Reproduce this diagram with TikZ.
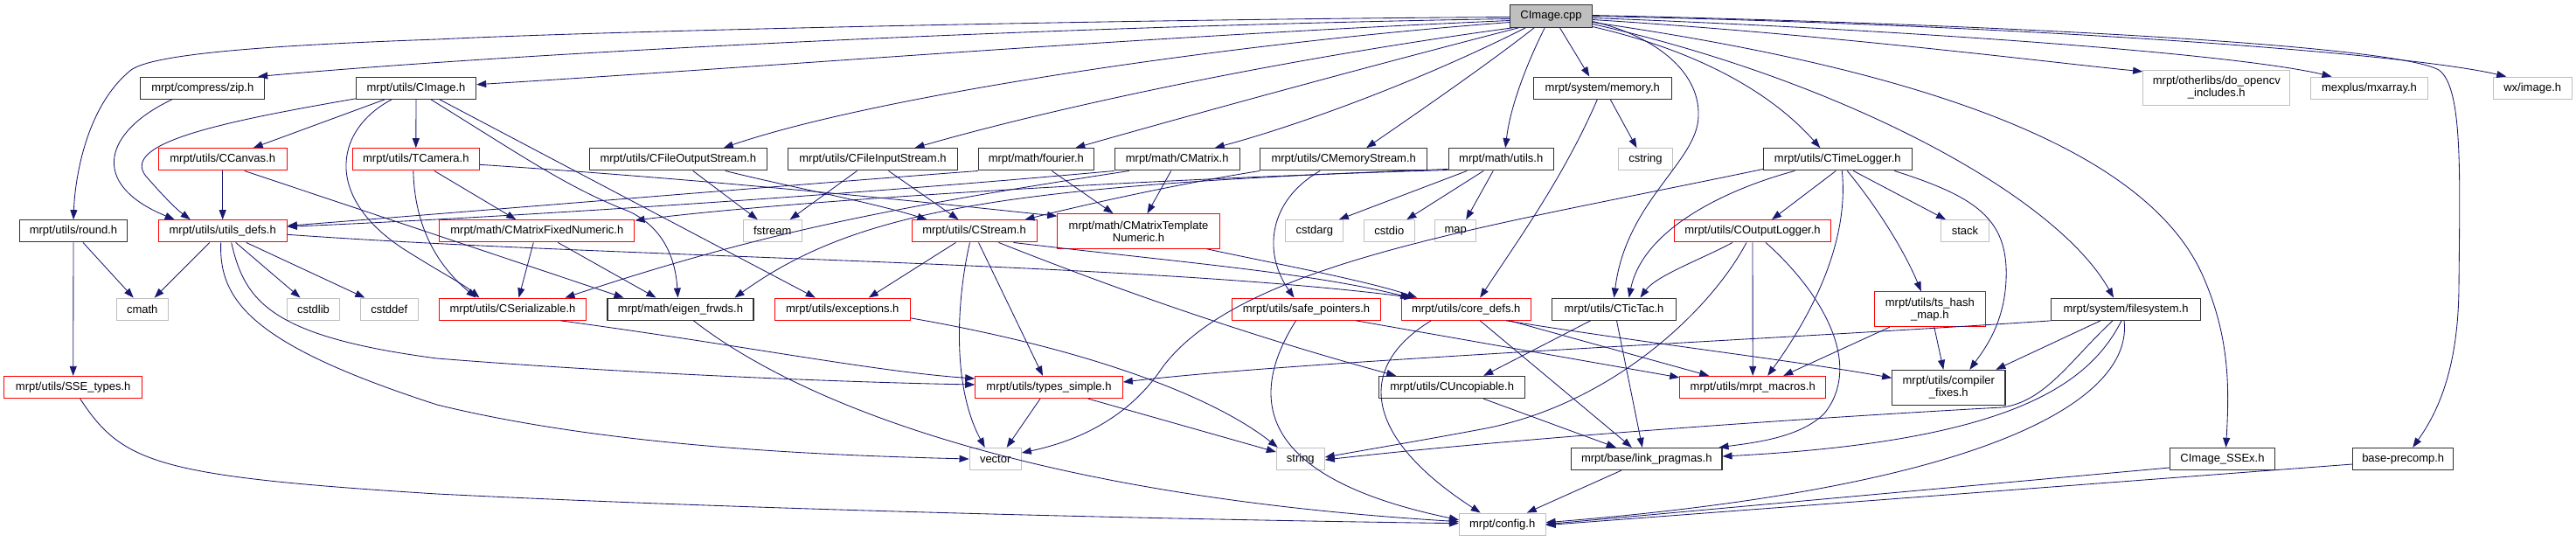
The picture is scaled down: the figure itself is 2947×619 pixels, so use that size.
\documentclass[tikz,border=0pt]{standalone}
\usepackage{fontspec}
\setmainfont{Liberation Sans}
\usetikzlibrary{arrows.meta}
\definecolor{edgec}{HTML}{191970}
\definecolor{redc}{HTML}{FF0000}
\definecolor{grayc}{HTML}{BFBFBF}
\definecolor{blkc}{HTML}{303030}
\begin{document}
\begin{tikzpicture}[x=1pt,y=-1pt,
  bx/.style={rectangle, inner sep=0pt, minimum height=25.3pt, font=\fontsize{13}{14}\selectfont, align=center, text=black},
  bxk/.style={bx, draw=blkc, line width=1.05pt},
  bxr/.style={bx, draw=redc, line width=1pt},
  bxg/.style={bx, draw=grayc, line width=1pt},
  bxroot/.style={bx, draw=blkc, line width=1.05pt, fill=grayc, minimum height=25.6pt},
  edg/.style={draw=edgec, line width=0.85pt, -{Triangle[length=11pt,width=8pt]}}]
\useasboundingbox (0,0) rectangle (2947,619);
\fill[white] (0,0) rectangle (2947,619);
% nodes
\node[bxroot, minimum width=93.6pt] (cpp) at (1774.5,18.5) {CImage.cpp};
\node[bxk, minimum width=141.7pt] (zip) at (231.8,100.7) {mrpt/compress/zip.h};
\node[bxk, minimum width=137.4pt] (cimgh) at (476,100.7) {mrpt/utils/CImage.h};
\node[bxk, minimum width=158pt] (memory) at (1833.3,100.7) {mrpt/system/memory.h};
\node[bxg, minimum width=168.3pt, minimum height=40pt] (opencv) at (2535.8,100.3) {mrpt/otherlibs/do\_opencv\\\_includes.h};
\node[bxg, minimum width=133.6pt] (mxarray) at (2710.5,100.7) {mexplus/mxarray.h};
\node[bxg, minimum width=89.7pt] (wximage) at (2897.2,100.7) {wx/image.h};
\node[bxr, minimum width=147.3pt] (ccanvas) at (254.7,182.3) {mrpt/utils/CCanvas.h};
\node[bxr, minimum width=145pt] (tcamera) at (475.8,182.3) {mrpt/utils/TCamera.h};
\node[bxk, minimum width=203pt] (cfos) at (775.8,182.3) {mrpt/utils/CFileOutputStream.h};
\node[bxk, minimum width=193.6pt] (cfis) at (998.5,182.3) {mrpt/utils/CFileInputStream.h};
\node[bxk, minimum width=132pt] (fourier) at (1185.3,182.3) {mrpt/math/fourier.h};
\node[bxk, minimum width=143.3pt] (cmatrix) at (1346.7,182.3) {mrpt/math/CMatrix.h};
\node[bxk, minimum width=191pt] (cmem) at (1537.2,182.3) {mrpt/utils/CMemoryStream.h};
\node[bxk, minimum width=120.3pt] (mutils) at (1717.2,182.3) {mrpt/math/utils.h};
\node[bxg, minimum width=61.6pt] (cstring) at (1882.5,182.3) {cstring};
\node[bxk, minimum width=170pt] (ctimelog) at (2102.3,182.3) {mrpt/utils/CTimeLogger.h};
\node[bxk, minimum width=122.6pt] (round) at (84,264.3) {mrpt/utils/round.h};
\node[bxr, minimum width=147.3pt] (udefs) at (254.7,264.3) {mrpt/utils/utils\_defs.h};
\node[bxr, minimum width=223.3pt] (cmfn) at (614.3,264.3) {mrpt/math/CMatrixFixedNumeric.h};
\node[bxg, minimum width=66.7pt] (fstream) at (883.7,264.3) {fstream};
\node[bxr, minimum width=143pt] (cstream) at (1114.5,264.3) {mrpt/utils/CStream.h};
\node[bxr, minimum width=185.6pt, minimum height=39.6pt] (cmtn) at (1302.5,264.5) {mrpt/math/CMatrixTemplate\\Numeric.h};
\node[bxg, minimum width=65.7pt] (cstdarg) at (1503.8,264.3) {cstdarg};
\node[bxg, minimum width=58pt] (cstdio) at (1589.3,264.3) {cstdio};
\node[bxg, minimum width=47pt] (map) at (1665.2,264.3) {map};
\node[bxr, minimum width=178.6pt] (coutlog) at (2005,264.3) {mrpt/utils/COutputLogger.h};
\node[bxg, minimum width=55.4pt] (stack) at (2248,264.3) {stack};
\node[bxg, minimum width=59.3pt] (cmath) at (162.7,353.7) {cmath};
\node[bxg, minimum width=60.4pt] (cstdlib) at (358.5,353.7) {cstdlib};
\node[bxg, minimum width=66pt] (cstddef) at (445.3,353.7) {cstddef};
\node[bxr, minimum width=168.4pt] (cser) at (586.5,353.7) {mrpt/utils/CSerializable.h};
\node[bxk, minimum width=167pt] (eigen) at (778.5,353.7) {mrpt/math/eigen\_frwds.h};
\node[bxr, minimum width=155pt] (except) at (963.8,353.7) {mrpt/utils/exceptions.h};
\node[bxr, minimum width=169.6pt] (safeptr) at (1494.5,353.7) {mrpt/utils/safe\_pointers.h};
\node[bxr, minimum width=148.3pt] (coredefs) at (1677.2,353.7) {mrpt/utils/core\_defs.h};
\node[bxk, minimum width=141.6pt] (tictac) at (1846.5,353.7) {mrpt/utils/CTicTac.h};
\node[bxr, minimum width=127pt, minimum height=40pt] (tshash) at (2207.8,353.7) {mrpt/utils/ts\_hash\\\_map.h};
\node[bxk, minimum width=170.6pt] (fsys) at (2432,353.7) {mrpt/system/filesystem.h};
\node[bxr, minimum width=158pt] (sse) at (83.7,443) {mrpt/utils/SSE\_types.h};
\node[bxr, minimum width=168.6pt] (types) at (1200,443) {mrpt/utils/types\_simple.h};
\node[bxk, minimum width=167pt] (cuncop) at (1661.2,443) {mrpt/utils/CUncopiable.h};
\node[bxr, minimum width=167pt] (macros) at (2005.2,443) {mrpt/utils/mrpt\_macros.h};
\node[bxk, minimum width=129.3pt, minimum height=40pt] (compfix) at (2229.3,443.3) {mrpt/utils/compiler\\\_fixes.h};
\node[bxg, minimum width=59.3pt] (vector) at (1138.7,525) {vector};
\node[bxg, minimum width=55pt] (string) at (1487.8,525) {string};
\node[bxk, minimum width=172.3pt] (linkp) at (1883.8,525) {mrpt/base/link\_pragmas.h};
\node[bxk, minimum width=120.4pt] (sseex) at (2542.5,525) {CImage\_SSEx.h};
\node[bxk, minimum width=115pt] (precomp) at (2749.2,525) {base-precomp.h};
\node[bxg, minimum width=98.7pt] (config) at (1718.7,599.7) {mrpt/config.h};
% edges from CImage.cpp
\draw[edg] ([yshift=-1pt]cpp.west) .. controls (1300,22) and (700,35) .. (500,45) .. controls (300,52) and (175,62) .. (150,80) .. controls (100,120) and (86,200) .. (round.north);
\draw[edg] ([yshift=-3pt]cpp.west) .. controls (1200,30) and (600,60) .. ([xshift=-8pt]zip.north east);
\draw[edg] ([yshift=-5pt]cpp.west) .. controls (1300,42) and (900,75) .. ([yshift=4pt]cimgh.east);
\draw[edg] ([yshift=-7pt]cpp.west) .. controls (1400,50) and (1000,110) .. ([xshift=52pt]cfos.north);
\draw[edg] ([xshift=3pt]cpp.south west) .. controls (1450,70) and (1200,125) .. ([xshift=48pt]cfis.north);
\draw[edg] ([xshift=10pt]cpp.south west) .. controls (1550,80) and (1350,135) .. ([xshift=45pt]fourier.north);
\draw[edg] ([xshift=18pt]cpp.south west) .. controls (1620,95) and (1480,145) .. ([xshift=43pt]cmatrix.north);
\draw[edg] ([xshift=28pt]cpp.south west) .. controls (1700,75) and (1620,130) .. ([xshift=26pt]cmem.north);
\draw[edg] ([xshift=40pt]cpp.south west) .. controls (1748,70) and (1728,120) .. ([xshift=5pt]mutils.north);
\draw[edg] ([xshift=10pt]cpp.south) -- ([xshift=-15pt]memory.north);
\draw[edg] ([yshift=-6pt]cpp.east) .. controls (1890,40) and (1945,80) .. (1943,133) .. controls (1942,185) and (1860,230) .. (tictac.north);
\draw[edg] ([yshift=-12pt]cpp.east) .. controls (1950,60) and (2030,110) .. ([xshift=-20pt]ctimelog.north);
\draw[edg] ([yshift=-9pt]cpp.east) .. controls (2100,90) and (2350,220) .. ([xshift=-14pt]fsys.north);
\draw[edg] ([yshift=-7pt]cpp.east) .. controls (2200,80) and (2460,170) .. (2522,320) .. controls (2552,390) and (2550,450) .. ([xshift=4pt]sseex.north);
\draw[edg] ([yshift=-4pt]cpp.east) .. controls (2100,40) and (2350,72) .. ([yshift=-2pt]opencv.north west);
\draw[edg] ([yshift=-2pt]cpp.east) .. controls (2200,35) and (2560,62) .. ([xshift=-43pt]mxarray.north);
\draw[edg] (cpp.east) .. controls (2300,28) and (2750,60) .. ([xshift=-30pt]wximage.north);
\draw[edg] ([yshift=1pt]cpp.east) .. controls (2300,28) and (2740,52) .. (2790,80) .. controls (2818,100) and (2814,200) .. (2813,330) .. controls (2812,420) and (2790,470) .. ([xshift=11pt]precomp.north);
% CImage.h
\draw[edg] ([yshift=1pt]cimgh.south west) .. controls (250,140) and (130,165) .. (170,205) .. controls (185,222) and (200,238) .. ([xshift=-37pt]udefs.north);
\draw[edg] ([xshift=-36pt]cimgh.south) -- ([xshift=35pt]ccanvas.north);
\draw[edg] (cimgh.south) -- (tcamera.north);
\draw[edg] ([xshift=-28pt]cimgh.south) .. controls (380,150) and (370,230) .. (470,290) .. controls (505,312) and (530,325) .. ([xshift=-38pt]cser.north);
\draw[edg] ([xshift=17pt]cimgh.south) .. controls (600,180) and (650,215) .. (720,242) .. controls (762,262) and (773,300) .. ([xshift=-3pt]eigen.north);
\draw[edg] ([xshift=27pt]cimgh.south) -- ([xshift=-31pt]except.north);
% CCanvas, TCamera
\draw[edg] (ccanvas.south) -- (udefs.north);
\draw[edg] ([xshift=25pt]ccanvas.south) -- ([xshift=-65pt]eigen.north);
\draw[edg] ([xshift=21pt]tcamera.south) -- ([xshift=-24pt]cmfn.north);
\draw[edg] ([xshift=-3pt]tcamera.south) .. controls (474,245) and (490,295) .. ([xshift=-42pt]cser.north);
\draw[edg] ([yshift=-6pt]tcamera.east) .. controls (800,205) and (1000,225) .. ([yshift=-3pt]cmtn.north west);
% cmfn, cser, eigen
\draw[edg] ([xshift=-4pt]cmfn.south) -- ([xshift=7pt]cser.north);
\draw[edg] ([xshift=24pt]cmfn.south) -- ([xshift=-28pt]eigen.north);
\draw[edg] ([xshift=55pt]cser.south) .. controls (850,395) and (1000,425) .. ([yshift=10pt]types.west);
\draw[edg] ([xshift=15pt]eigen.south) .. controls (900,450) and (1150,565) .. ([yshift=3pt]config.west);
% utils_defs
\draw[edg] ([xshift=-15pt]udefs.south) -- ([xshift=14pt]cmath.north);
\draw[edg] ([xshift=15pt]udefs.south) -- ([xshift=-15pt]cstdlib.north);
\draw[edg] ([xshift=27pt]udefs.south) -- ([xshift=-28pt]cstddef.north);
\draw[edg] ([xshift=-2pt]udefs.south) .. controls (250,345) and (290,395) .. (500,463) .. controls (700,512) and (950,521) .. (vector.west);
\draw[edg] ([xshift=10pt]udefs.south) .. controls (280,345) and (310,385) .. (500,410) .. controls (700,426) and (950,437) .. ([yshift=3pt]types.west);
\draw[edg] ([yshift=-4pt]udefs.east) .. controls (700,295) and (1300,300) .. ([xshift=-60pt]coredefs.north);
% zip, round, sse
\draw[edg] ([xshift=-35pt]zip.south) .. controls (120,150) and (100,210) .. ([xshift=-55pt]udefs.north);
\draw[edg] ([xshift=11pt]round.south) -- ([xshift=-10pt]cmath.north);
\draw[edg] (round.south) -- (sse.north);
\draw[edg] ([xshift=8pt]sse.south) .. controls (140,530) and (180,545) .. (500,565) .. controls (900,585) and (1400,595) .. ([yshift=1pt]config.west);
% streams
\draw[edg] ([xshift=17pt]cfos.south) -- ([xshift=-17pt]fstream.north);
\draw[edg] ([xshift=54pt]cfos.south) .. controls (900,213) and (1000,232) .. ([xshift=-54pt]cstream.north);
\draw[edg] ([xshift=-18pt]cfis.south) -- ([xshift=20pt]fstream.north);
\draw[edg] ([xshift=18pt]cfis.south) -- ([xshift=-18pt]cstream.north);
% fourier, CMatrix
\draw[edg] (fourier.south west) .. controls (900,212) and (500,245) .. ([yshift=6pt]udefs.east);
\draw[edg] ([xshift=18pt]fourier.south) -- ([xshift=-29pt]cmtn.north);
\draw[edg] (cmatrix.south west) .. controls (950,225) and (550,250) .. ([yshift=5pt]udefs.east);
\draw[edg] ([xshift=-7pt]cmatrix.south) -- ([xshift=10pt]cmtn.north);
\draw[edg] ([xshift=-55pt]cmatrix.south) .. controls (1000,240) and (860,270) .. ([xshift=60pt]cser.north);
% math/utils
\draw[edg] ([xshift=-39pt]mutils.south) -- ([xshift=28pt]cstdarg.north);
\draw[edg] ([xshift=-20pt]mutils.south) -- ([xshift=20pt]cstdio.north);
\draw[edg] ([xshift=-9pt]mutils.south) -- ([xshift=12pt]map.north);
\draw[edg] ([yshift=1pt]mutils.south west) .. controls (1300,205) and (900,230) .. ([yshift=-1pt]cmfn.north east);
\draw[edg] ([yshift=2pt]mutils.south west) .. controls (1150,212) and (980,240) .. ([xshift=62pt]eigen.north);
% CMemoryStream, CMatrixTemplateNumeric
\draw[edg] (cmem.south west) .. controls (1350,210) and (1250,232) .. ([xshift=58pt]cstream.north);
\draw[edg] ([xshift=-27pt]cmem.south) .. controls (1450,230) and (1445,290) .. ([xshift=-14pt]safeptr.north);
\draw[edg] ([xshift=-15pt]cmtn.south east) .. controls (1450,300) and (1560,320) .. ([xshift=-56pt]coredefs.north);
% CStream
\draw[edg] ([xshift=-21pt]cstream.south) -- ([xshift=30pt]except.north);
\draw[edg] ([xshift=-5pt]cstream.south) .. controls (1095,340) and (1088,440) .. ([xshift=-12pt]vector.north);
\draw[edg] ([xshift=5pt]cstream.south) -- ([xshift=-7pt]types.north);
\draw[edg] ([xshift=28pt]cstream.south) .. controls (1300,340) and (1450,390) .. ([xshift=-64pt]cuncop.north);
\draw[edg] ([xshift=45pt]cstream.south) .. controls (1350,300) and (1500,312) .. ([xshift=-64pt]coredefs.north);
% exceptions, types
\draw[edg] ([yshift=3pt]except.south east) .. controls (1250,400) and (1390,455) .. ([xshift=2pt]string.north west);
\draw[edg] ([xshift=-10pt]types.south) -- ([xshift=13pt]vector.north);
\draw[edg] ([xshift=45pt]types.south) -- ([yshift=8pt]string.west);
% safe_pointers
\draw[edg] ([xshift=-12pt]safeptr.south) .. controls (1430,450) and (1430,545) .. ([yshift=5pt]config.west);
\draw[edg] ([xshift=57pt]safeptr.south) -- ([yshift=-2pt]macros.north west);
% core_defs
\draw[edg] ([xshift=-40pt]coredefs.south) .. controls (1550,420) and (1560,500) .. ([xshift=-25pt]config.north);
\draw[edg] ([xshift=16pt]coredefs.south) -- ([xshift=-17pt]linkp.north);
\draw[edg] ([xshift=46pt]coredefs.south) .. controls (1900,395) and (2050,412) .. ([yshift=11pt]compfix.west);
\draw[edg] ([xshift=50pt]coredefs.south) -- ([xshift=-50pt]macros.north);
% CTicTac, CUncopiable, link_pragmas
\draw[edg] ([xshift=-27pt]tictac.south) -- ([xshift=36pt]cuncop.north);
\draw[edg] ([xshift=3pt]tictac.south) -- ([xshift=-5pt]linkp.north);
\draw[edg] ([xshift=36pt]cuncop.south) -- ([xshift=-35pt]linkp.north);
\draw[edg] ([xshift=-29pt]linkp.south) -- ([xshift=28pt]config.north);
% COutputLogger
\draw[edg] ([xshift=-23pt]coutlog.south) .. controls (1950,295) and (1895,315) .. ([xshift=30pt]tictac.north);
\draw[edg] ([xshift=-7pt]coutlog.south) .. controls (1960,350) and (1850,460) .. (1700,490) .. controls (1620,505) and (1560,515) .. ([yshift=2pt]string.east);
\draw[edg] (coutlog.south) -- (macros.north);
\draw[edg] ([xshift=15pt]coutlog.south) .. controls (2090,340) and (2130,420) .. (2087,473) .. controls (2060,500) and (2010,506) .. ([xshift=-4pt]linkp.north east);
% CTimeLogger
\draw[edg] ([xshift=-2pt]ctimelog.south) -- ([xshift=22pt]coutlog.north);
\draw[edg] ([xshift=-49pt]ctimelog.south) .. controls (1980,215) and (1880,260) .. ([xshift=17pt]tictac.north);
\draw[edg] ([yshift=2pt]ctimelog.south west) .. controls (1700,260) and (1420,300) .. (1330,420) .. controls (1290,480) and (1230,505) .. ([yshift=7pt]vector.east);
\draw[edg] ([xshift=5pt]ctimelog.south) .. controls (2115,270) and (2080,350) .. ([xshift=17pt]macros.north);
\draw[edg] ([xshift=11pt]ctimelog.south) .. controls (2150,240) and (2180,290) .. ([xshift=-10pt]tshash.north);
\draw[edg] ([xshift=18pt]ctimelog.south) -- ([xshift=-22pt]stack.north);
\draw[edg] ([xshift=65pt]ctimelog.south) .. controls (2260,225) and (2298,250) .. (2295,320) .. controls (2293,370) and (2270,400) .. ([xshift=24pt]compfix.north);
% ts_hash_map
\draw[edg] ([xshift=-46pt]tshash.south) -- ([xshift=35pt]macros.north);
\draw[edg] ([xshift=5pt]tshash.south) -- ([xshift=-6pt]compfix.north);
% filesystem
\draw[edg] (fsys.south west) .. controls (2000,390) and (1500,412) .. ([yshift=6pt]types.east);
\draw[edg] ([xshift=-29pt]fsys.south) -- ([xshift=54pt]compfix.north);
\draw[edg] ([xshift=-15pt]fsys.south) .. controls (2370,410) and (2340,460) .. (2290,466) .. controls (2000,482) and (1700,505) .. ([yshift=-1pt]string.east);
\draw[edg] ([xshift=-5pt]fsys.south) .. controls (2390,440) and (2300,505) .. ([yshift=3pt]linkp.east);
\draw[edg] ([xshift=-2pt]fsys.south) .. controls (2440,450) and (2300,555) .. ([yshift=2pt]config.east);
% SSEx, precomp
\draw[edg] ([yshift=-10pt]sseex.west) -- (config.east);
\draw[edg] ([yshift=-6pt]precomp.west) -- ([yshift=-1pt]config.east);
% memory
\draw[edg] ([xshift=9pt]memory.south) -- ([xshift=-10pt]cstring.north);
\draw[edg] ([xshift=-6pt]memory.south) .. controls (1790,200) and (1740,270) .. ([xshift=16pt]coredefs.north);
\end{tikzpicture}
\end{document}
